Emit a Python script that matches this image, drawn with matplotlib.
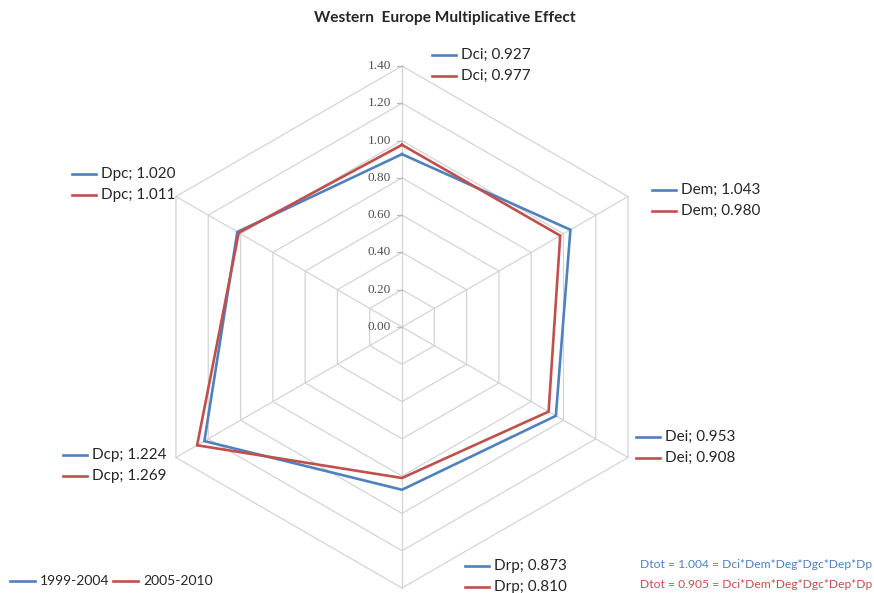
import numpy as np
import matplotlib
matplotlib.use("Agg")
import matplotlib.pyplot as plt
from matplotlib.lines import Line2D

# Radar data: axes run clockwise from the top
categories = ["Dci", "Dem", "Dei", "Drp", "Dcp", "Dpc"]
period_a = [0.927, 1.043, 0.953, 0.873, 1.224, 1.020]
period_b = [0.977, 0.980, 0.908, 0.810, 1.269, 1.011]
series_names = ["1999-2004", "2005-2010"]
tick_values = [0.0, 0.2, 0.4, 0.6, 0.8, 1.0, 1.2, 1.4]
dtot_a = "Dtot = 1.004 = Dci*Dem*Deg*Dgc*Dep*Dp"
dtot_b = "Dtot = 0.905 = Dci*Dem*Deg*Dgc*Dep*Dp"
title = "Western  Europe Multiplicative Effect"

BLUE = "#4f81bd"
RED = "#c0504d"
GRID = "#d4d4d4"
SANS = "Lato"

W, H = 874, 593
cx, cy = 402, 327          # centre of the web, pixels
rpx = 261                  # pixel radius of the outermost ring
rmax = tick_values[-1]
s = rmax / rpx

fig = plt.figure(figsize=(W / 100, H / 100), dpi=100)
ax = fig.add_axes([0, 0, 1, 1])
ax.set_xlim(-cx * s, (W - cx) * s)
ax.set_ylim(-(H - cy) * s, cy * s)
ax.axis("off")

n = len(categories)
ang = np.pi / 2 - np.arange(n) * 2 * np.pi / n


def xy(vals):
    v = np.asarray(vals, dtype=float)
    x = v * np.cos(ang)
    y = v * np.sin(ang)
    return np.append(x, x[0]), np.append(y, y[0])


# hexagonal grid rings and spokes
for t in tick_values[1:]:
    gx, gy = xy([t] * n)
    ax.plot(gx, gy, color=GRID, lw=0.9, zorder=1)
for a in ang:
    ax.plot([0, rmax * np.cos(a)], [0, rmax * np.sin(a)], color=GRID, lw=0.9, zorder=1)

# radial tick marks and labels on the vertical spoke
for t in tick_values:
    ax.plot([-0.025, 0], [t, t], color="#bbbbbb", lw=0.9, zorder=1)
    ax.text(-0.06, t, f"{t:.2f}", ha="right", va="center", fontsize=9.5,
            family="Liberation Serif", color="#505050")

# data polygons
for vals, col in ((period_a, BLUE), (period_b, RED)):
    px, py = xy(vals)
    ax.plot(px, py, color=col, lw=1.9, zorder=3, solid_joinstyle="miter")


def fx(p):
    return p / W


def fy(p):
    return 1 - p / H


def key(x0, y0, col, label, size=11, length=24):
    fig.add_artist(Line2D([fx(x0), fx(x0 + length)], [fy(y0), fy(y0)],
                          color=col, lw=1.9))
    fig.text(fx(x0 + length + 5), fy(y0), label, ha="left", va="center",
             fontsize=size, family=SANS, color="#262626")


# per-axis value keys (pixel anchor of the key line)
key_pos = {
    "Dci": (432, 55),
    "Dem": (652, 190),
    "Dei": (636, 437),
    "Drp": (465, 566),
    "Dcp": (63, 455),
    "Dpc": (72, 174),
}
for i, c in enumerate(categories):
    x0, y0 = key_pos[c]
    key(x0, y0, BLUE, f"{c}; {period_a[i]:.3f}")
    key(x0, y0 + 21, RED, f"{c}; {period_b[i]:.3f}")

# series legend
key(10, 581, BLUE, series_names[0], size=10, length=25)
key(113, 581, RED, series_names[1], size=10, length=25)

fig.text(fx(445), fy(18), title, ha="center", va="center", fontsize=11.2,
         fontweight="bold", family=SANS, color="#262626")
fig.text(fx(872), fy(565), dtot_a, ha="right", va="center", fontsize=8.7,
         family=SANS, color=BLUE)
fig.text(fx(872), fy(585), dtot_b, ha="right", va="center", fontsize=8.7,
         family=SANS, color=RED)

fig.savefig("out.png", dpi=100)
